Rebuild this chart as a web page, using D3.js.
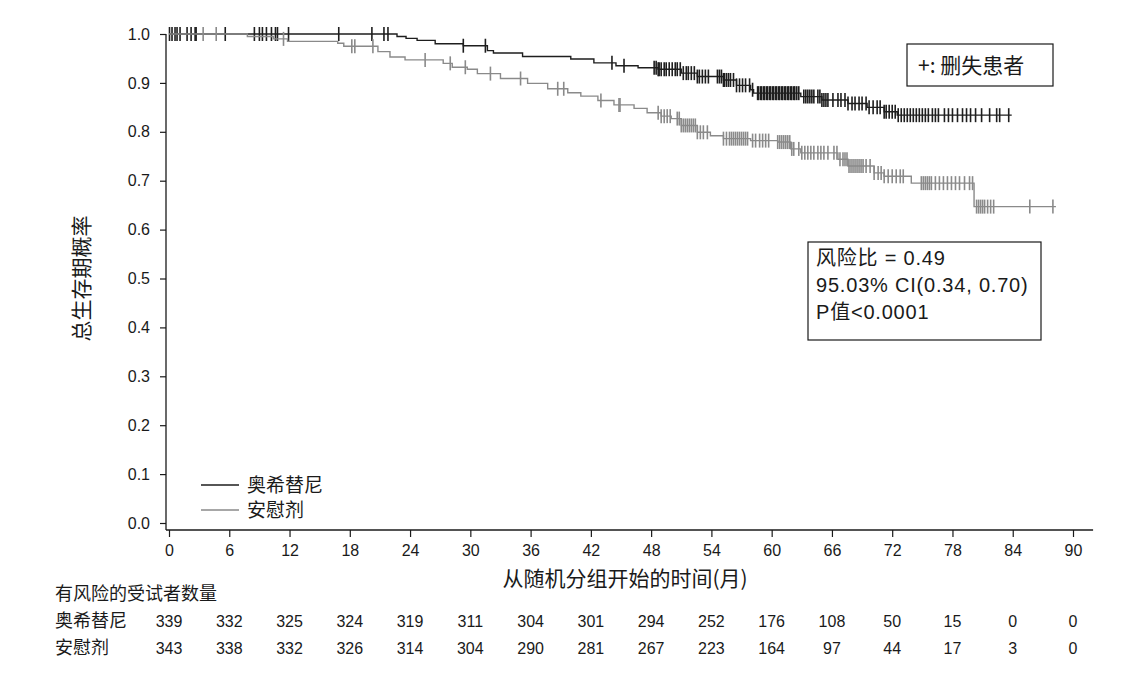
<!DOCTYPE html>
<html>
<head>
<meta charset="utf-8">
<script src="https://cdn.jsdelivr.net/npm/d3@7"></script>
<style>
  body { margin: 0; background: #fff; }
  text { fill: #1a1a1a; }
</style>
</head>
<body>
<svg id="km" width="1132" height="684"></svg>
<script>
// step curves: time (months) where survival drops, and the new value
var osiTimes = [0, 22.7, 23.6, 24.7, 26.5, 29.3, 31.7, 32.3, 35.2, 40.0, 42.3, 44.5, 46.7, 48.7, 51.0, 52.6, 55.2, 56.5, 57.9, 58.2, 62.9, 65.0, 67.6, 69.5, 71.2, 72.5];
var osiSurv  = [1, 0.995, 0.991, 0.987, 0.980, 0.976, 0.966, 0.961, 0.954, 0.949, 0.941, 0.935, 0.931, 0.928, 0.920, 0.913, 0.906, 0.895, 0.886, 0.879, 0.872, 0.865, 0.858, 0.850, 0.841, 0.834];
var osiEnd = 83.9;

var pboTimes = [0, 7.8, 10.4, 11.8, 16.8, 17.4, 20.8, 22.0, 23.5, 27.3, 28.2, 29.7, 30.7, 33.0, 35.7, 37.7, 39.7, 41.0, 42.7, 44.3, 46.3, 47.6, 49.0, 50.0, 51.0, 52.6, 53.9, 55.2, 57.9, 60.6, 61.9, 62.9, 66.6, 67.6, 70.2, 71.2, 73.9, 80.15];
var pboSurv  = [1, 0.995, 0.990, 0.985, 0.981, 0.975, 0.964, 0.953, 0.947, 0.940, 0.932, 0.928, 0.919, 0.909, 0.899, 0.888, 0.880, 0.873, 0.864, 0.855, 0.848, 0.839, 0.832, 0.827, 0.813, 0.799, 0.792, 0.786, 0.782, 0.779, 0.765, 0.757, 0.744, 0.730, 0.716, 0.709, 0.695, 0.647];
var pboEnd = 88.3;

// censoring times (months)
var osiCensor = [0.05, 0.3, 0.6, 0.8, 1.1, 1.8, 2.2, 2.6, 2.7, 5.6, 8.5, 9.0, 9.3, 9.7, 10.2, 10.6, 10.8, 11.9, 16.9, 20.2, 21.4, 21.8,
  29.3, 31.5, 44.1, 45.3,
  48.3, 48.5, 48.7, 48.8, 49.0, 49.3, 49.5, 49.8, 50.1, 50.4, 50.6, 50.9, 51.2, 51.5, 51.7, 52.0, 52.3, 52.6, 52.8, 53.1, 53.4, 53.7,
  54.6, 54.8, 55.0, 55.2, 55.3, 55.5, 55.7, 55.9, 56.2, 56.5, 56.8, 57.1, 57.4, 57.8, 58.1,
  58.6, 58.7, 58.9, 59.0, 59.2, 59.3, 59.5, 59.6, 59.8, 59.9, 60.1, 60.2, 60.4, 60.5, 60.7, 60.8, 61.0, 61.1, 61.3, 61.4, 61.6, 61.7, 61.9, 62.0, 62.2, 62.3, 62.5, 62.7,
  63.2, 63.4, 63.6, 63.8, 64.0, 64.2, 64.6, 64.8, 65.0, 65.2, 65.4, 65.6, 66.1, 66.6,
  66.9, 67.3, 67.6, 68.0, 68.3, 68.7, 69.0, 69.4, 69.7, 70.1, 70.5, 70.8, 71.2,
  71.4, 71.7, 72.0, 72.3, 72.6, 72.9, 73.2, 73.5, 73.8, 74.1, 74.4, 74.7, 75.0, 75.3, 75.6, 76.0, 76.3, 76.6,
  77.2, 77.6, 78.0, 78.5, 79.0, 79.4, 79.8, 80.3, 80.9, 81.7, 82.4, 82.7, 83.6];

var pboCensor = [3.4, 4.7, 11.4, 18.2, 18.5, 20.3, 25.5, 28.0, 29.5, 32.0, 35.0, 38.7, 39.3, 43.0, 44.8, 44.9,
  48.7, 49.0, 49.3, 49.6, 49.9, 50.6, 50.8, 51.0, 51.2, 51.4, 51.6, 51.8, 52.0, 52.2, 52.4, 52.6, 52.9, 53.2, 53.6,
  55.2, 55.5, 55.8, 56.0, 56.2, 56.4, 56.6, 56.8, 57.0, 57.2, 57.4, 57.6, 58.1, 58.4, 58.8, 59.1, 59.4, 59.7,
  60.6, 60.8, 61.0, 61.2, 61.4, 61.6, 61.8, 62.0, 62.2, 62.7, 63.0, 63.3, 63.6, 63.9, 64.2, 64.6, 64.9, 65.2, 65.6,
  66.2, 66.5, 66.8, 67.1, 67.3, 67.5, 67.7, 67.9, 68.1, 68.3, 68.5, 68.7, 68.9, 69.1, 69.4, 69.8, 70.2, 70.6, 70.9,
  71.2, 71.6, 72.0, 72.4, 72.8, 73.1, 74.9, 75.1, 75.3, 75.5, 75.7, 75.9, 76.3, 76.7, 77.1, 77.5, 77.9, 78.3, 78.7, 79.2, 79.7, 80.0,
  80.4, 80.6, 80.8, 81.0, 81.2, 81.5, 81.8, 82.1, 85.7, 88.0];

var riskTimes = [0, 6, 12, 18, 24, 30, 36, 42, 48, 54, 60, 66, 72, 78, 84, 90];
var riskOsi = [339, 332, 325, 324, 319, 311, 304, 301, 294, 252, 176, 108, 50, 15, 0, 0];
var riskPbo = [343, 338, 332, 326, 314, 304, 290, 281, 267, 223, 164, 97, 44, 17, 3, 0];

var armNames = ["奥希替尼", "安慰剂"];
var armColors = ["#1e1e1e", "#8a8a8a"];

var cjk = "'Noto Sans CJK SC', 'Liberation Sans', sans-serif";
var num = "'Liberation Sans', Arial, 'Noto Sans CJK SC', sans-serif";

var svg = d3.select("#km");

var x = d3.scaleLinear().domain([0, 90]).range([169, 1073]);
var y = d3.scaleLinear().domain([0, 1]).range([523, 34]);
var axisY = 530, axisX = 166;

// x axis
var gx = svg.append("g").attr("transform", "translate(0," + axisY + ")");
gx.append("line").attr("x1", axisX).attr("x2", x(92)).attr("stroke", "#1a1a1a").attr("stroke-width", 1.3);
gx.call(d3.axisBottom(x).tickValues(d3.range(0, 93, 2)).tickSize(4).tickFormat(""));
gx.call(d3.axisBottom(x).tickValues(d3.range(0, 91, 6)).tickSize(7).tickPadding(8));
gx.selectAll(".domain").remove();
gx.selectAll(".tick line").attr("stroke", "#1a1a1a").attr("stroke-width", 1.2);
gx.selectAll("text").style("font-family", num).style("font-size", "16px").attr("fill", "#1a1a1a");

// y axis
var gy = svg.append("g").attr("transform", "translate(" + axisX + ",0)");
gy.append("line").attr("y1", y(1)).attr("y2", axisY).attr("stroke", "#1a1a1a").attr("stroke-width", 1.3);
gy.call(d3.axisLeft(y).tickValues(d3.range(0, 1.001, 0.025)).tickSize(3).tickFormat(""));
gy.call(d3.axisLeft(y).tickValues(d3.range(0, 1.01, 0.1)).tickSize(6).tickPadding(10).tickFormat(d3.format(".1f")));
gy.selectAll(".domain").remove();
gy.selectAll(".tick line").attr("stroke", "#1a1a1a").attr("stroke-width", 1.2);
gy.selectAll("text").style("font-family", num).style("font-size", "16px").attr("fill", "#1a1a1a");

// axis titles
svg.append("text")
  .attr("transform", "translate(89," + y(0.5) + ") rotate(-90)")
  .attr("text-anchor", "middle")
  .style("font-family", cjk).style("font-size", "21px")
  .text("总生存期概率");

svg.append("text")
  .attr("x", x(45) + 4).attr("y", 586)
  .attr("text-anchor", "middle")
  .style("font-family", cjk).style("font-size", "21px")
  .text("从随机分组开始的时间(月)");

// curves
var arms = [
  { times: osiTimes, surv: osiSurv, end: osiEnd, censor: osiCensor, color: armColors[0] },
  { times: pboTimes, surv: pboSurv, end: pboEnd, censor: pboCensor, color: armColors[1] }
];

var line = d3.line()
  .x(function(d) { return x(d[0]); })
  .y(function(d) { return y(d[1]); })
  .curve(d3.curveStepAfter);

function survAt(arm, t) {
  var i = d3.bisectRight(arm.times, t) - 1;
  return arm.surv[Math.max(i, 0)];
}

arms.forEach(function(arm) {
  var pts = arm.times.map(function(t, i) { return [t, arm.surv[i]]; });
  pts.push([arm.end, arm.surv[arm.surv.length - 1]]);
  svg.append("path")
    .attr("d", line(pts))
    .attr("fill", "none")
    .attr("stroke", arm.color)
    .attr("stroke-width", 1.4);

  svg.append("g").selectAll("line")
    .data(arm.censor)
    .enter().append("line")
      .attr("x1", function(d) { return x(d); })
      .attr("x2", function(d) { return x(d); })
      .attr("y1", function(d) { return y(survAt(arm, d)) - 7; })
      .attr("y2", function(d) { return y(survAt(arm, d)) + 7; })
      .attr("stroke", arm.color)
      .attr("stroke-width", 1.6);
});

// legend
var leg = svg.append("g");
armNames.forEach(function(name, i) {
  var ly = 485 + i * 25;
  leg.append("line").attr("x1", 201).attr("x2", 239).attr("y1", ly).attr("y2", ly)
    .attr("stroke", armColors[i]).attr("stroke-width", 1.3);
  leg.append("text").attr("x", 247).attr("y", ly + 7)
    .style("font-family", cjk).style("font-size", "19px").text(name);
});

// censor key box
svg.append("rect").attr("x", 907).attr("y", 44).attr("width", 146).attr("height", 42)
  .attr("fill", "none").attr("stroke", "#1a1a1a").attr("stroke-width", 1.2);
svg.append("text").attr("x", 918).attr("y", 73)
  .style("font-family", cjk).style("font-size", "21px").text("+: 删失患者");

// hazard ratio box
svg.append("rect").attr("x", 808).attr("y", 242).attr("width", 233).attr("height", 98)
  .attr("fill", "none").attr("stroke", "#1a1a1a").attr("stroke-width", 1.2);
var hrLines = ["风险比 = 0.49", "95.03% CI(0.34, 0.70)", "P值<0.0001"];
svg.append("g").selectAll("text")
  .data(hrLines)
  .enter().append("text")
    .attr("x", 816)
    .attr("y", function(d, i) { return 265 + i * 27; })
    .style("font-family", num).style("font-size", "20px")
    .style("letter-spacing", "0.8px")
    .text(function(d) { return d; });

// number at risk table
svg.append("text").attr("x", 55).attr("y", 600)
  .style("font-family", cjk).style("font-size", "18px").text("有风险的受试者数量");

[riskOsi, riskPbo].forEach(function(row, r) {
  var ry = 627 + r * 27;
  svg.append("text").attr("x", 55).attr("y", ry)
    .style("font-family", cjk).style("font-size", "18px").text(armNames[r]);
  svg.append("g").selectAll("text")
    .data(row)
    .enter().append("text")
      .attr("x", function(d, i) { return x(riskTimes[i]); })
      .attr("y", ry)
      .attr("text-anchor", "middle")
      .style("font-family", num).style("font-size", "16px")
      .text(function(d) { return d; });
});
</script>
</body>
</html>
